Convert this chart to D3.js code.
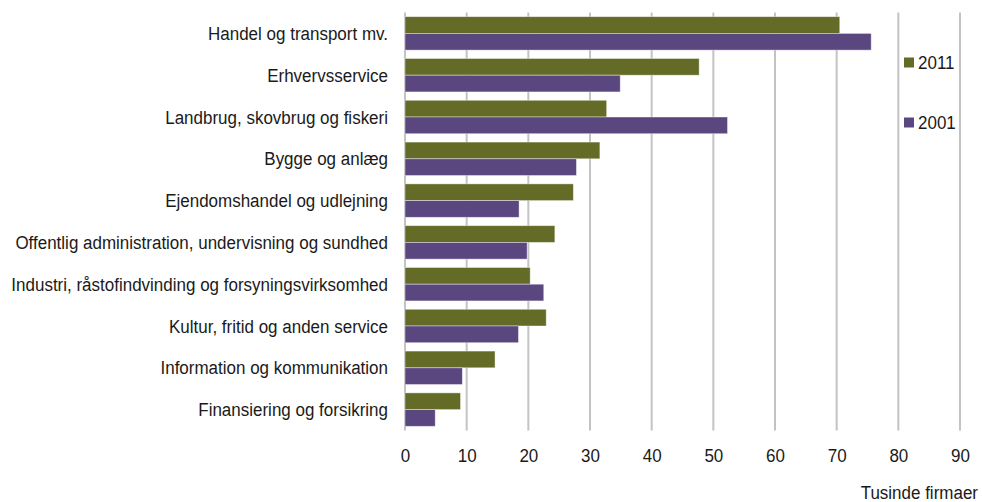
<!DOCTYPE html>
<html>
<head>
<meta charset="utf-8">
<script src="https://cdn.jsdelivr.net/npm/d3@7"></script>
<style>
  body { margin: 0; background: #fff; }
  text { font-family: "Liberation Sans", Arial, sans-serif; fill: #1a1a1a; }
</style>
</head>
<body>
<svg id="plot" width="982" height="502"></svg>
<script>
const categories = [
    "Handel og transport mv.",
    "Erhvervsservice",
    "Landbrug, skovbrug og fiskeri",
    "Bygge og anlæg",
    "Ejendomshandel og udlejning",
    "Offentlig administration, undervisning og sundhed",
    "Industri, råstofindvinding og forsyningsvirksomhed",
    "Kultur, fritid og anden service",
    "Information og kommunikation",
    "Finansiering og forsikring"
];
const series = ["2011", "2001"];
const values2011 = [70.5, 47.7, 32.7, 31.6, 27.3, 24.3, 20.3, 22.9, 14.6, 9.0];
const values2001 = [75.6, 34.9, 52.3, 27.8, 18.5, 19.8, 22.5, 18.4, 9.3, 4.9];
const xTicks = [0, 10, 20, 30, 40, 50, 60, 70, 80, 90];
const colors = {"2011": "#636b26", "2001": "#5b4780"};

const svg = d3.select("#plot");
const plotLeft = 405, plotRight = 960, plotTop = 12.5, plotBottom = 430.5;
const fontSize = "17px";
const stretch = 1.12; // text in the picture is a bit taller than plain Arial

// put a text at (tx, ty) with a slight vertical stretch
function place(sel, tx, ty) {
    sel.attr("x", 0).attr("y", 0)
        .attr("transform", "translate(" + tx + "," + ty + ") scale(1," + stretch + ")")
}

const x = d3.scaleLinear().domain([0, 90]).range([plotLeft, plotRight]);
const y = d3.scaleBand().domain(categories).range([plotTop, plotBottom]).paddingInner(0.2).paddingOuter(0.1);
const ySub = d3.scaleBand().domain(series).range([0, y.bandwidth()]);

// gridlines
svg.append("g").selectAll("line")
    .data(xTicks)
    .enter().append("line")
        .attr("x1", d => x(d))
        .attr("x2", d => x(d))
        .attr("y1", plotTop)
        .attr("y2", plotBottom)
        .attr("stroke", "#c3c3c3")
        .attr("stroke-width", 2)

// bars
const rows = categories.map((c, i) => ({cat: c, "2011": values2011[i], "2001": values2001[i]}));
const groups = svg.append("g").selectAll("g")
    .data(rows)
    .enter().append("g")
        .attr("transform", d => "translate(0," + y(d.cat) + ")")

groups.selectAll("rect")
    .data(d => series.map(s => ({s: s, v: d[s]})))
    .enter().append("rect")
        .attr("x", x(0))
        .attr("y", d => ySub(d.s))
        .attr("width", d => x(d.v) - x(0))
        .attr("height", ySub.bandwidth())
        .attr("fill", d => colors[d.s])
        .attr("stroke", "#fff")
        .attr("stroke-opacity", 0.5)
        .attr("stroke-width", 0.8)

// category labels
categories.forEach(function(c) {
    svg.append("text")
        .attr("text-anchor", "end")
        .attr("dy", "0.35em")
        .attr("font-size", fontSize)
        .call(place, 388, y(c) + y.bandwidth() / 2)
        .text(c)
})

// x axis labels
const xAxis = d3.axisBottom(x).tickValues(xTicks).tickSize(0);
const ax = svg.append("g")
    .attr("transform", "translate(0," + plotBottom + ")")
    .call(xAxis);
ax.select(".domain").remove();
ax.selectAll("text")
    .attr("font-size", fontSize)
    .attr("font-family", "Liberation Sans, Arial, sans-serif")
    .attr("fill", "#1a1a1a")
    .attr("dy", "0.35em")
    .call(place, 0, 24.5);

svg.append("text")
    .attr("text-anchor", "end")
    .attr("dy", "0.35em")
    .attr("font-size", fontSize)
    .call(place, 978, 492.5)
    .text("Tusinde firmaer")

// legend
const legY = {"2011": 62.5, "2001": 122.5};
series.forEach(function(s) {
    svg.append("rect")
        .attr("x", 904)
        .attr("y", legY[s] - 5)
        .attr("width", 10)
        .attr("height", 10)
        .attr("fill", colors[s])
    svg.append("text")
        .attr("dy", "0.35em")
        .attr("font-size", fontSize)
        .call(place, 918, legY[s])
        .text(s)
})
</script>
</body>
</html>
